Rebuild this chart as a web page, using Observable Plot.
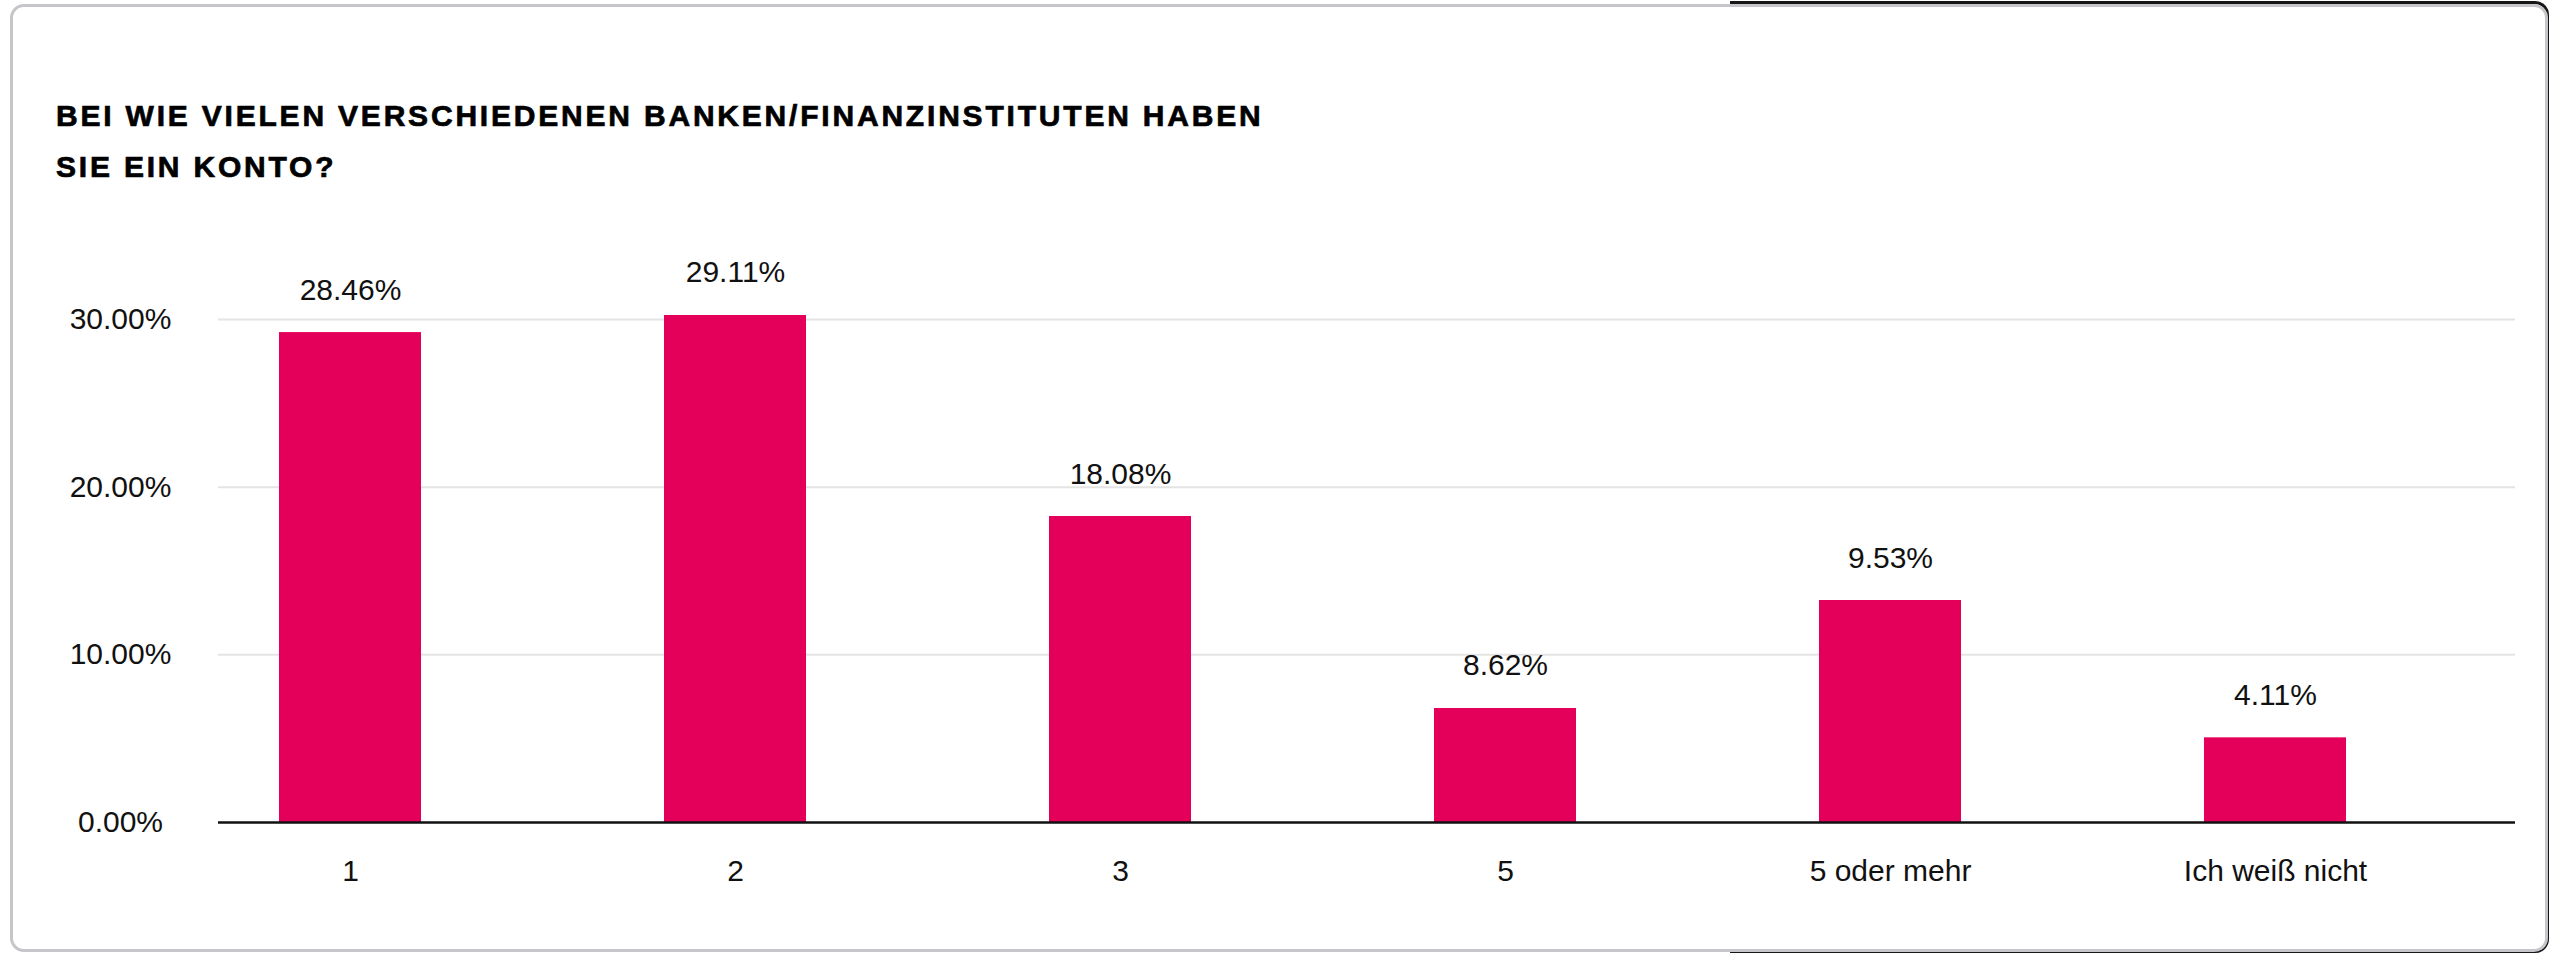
<!DOCTYPE html>
<html>
<head>
<meta charset="utf-8">
<script src="https://cdn.jsdelivr.net/npm/d3@7"></script>
<script src="https://cdn.jsdelivr.net/npm/@observablehq/plot@0.6"></script>
<style>
  html, body { margin: 0; padding: 0; background: #fff; overflow: hidden; }
  #wrap { position: relative; width: 2552px; height: 956px; background: #fff; }
  #card { position: absolute; left: 10px; top: 4px; width: 2532px; height: 942px;
          border: 3px solid #c6c6ca; border-radius: 14px; box-sizing: content-box; }
  #dark { position: absolute; left: 1730px; top: 1px; right: 3px; bottom: 3px;
          border: 3px solid #161616; border-left: none; border-radius: 0 14px 14px 0; }
  #title { position: absolute; left: 56px; top: 90px; font-family: "Liberation Sans", Arial, sans-serif;
           font-weight: 700; font-size: 30px; letter-spacing: 2.8px; line-height: 51px; color: #000;
           -webkit-text-stroke: 0.7px #000; }
  #chart { position: absolute; left: 0; top: 0; }
  #chart svg { overflow: visible; }
</style>
</head>
<body>
<div id="wrap">
  <div id="dark"></div>
  <div id="card"></div>
  <div id="title">BEI WIE VIELEN VERSCHIEDENEN BANKEN/FINANZINSTITUTEN HABEN<br>SIE EIN KONTO?</div>
  <div id="chart"></div>
</div>
<script>
// Data
const categories = ["1", "2", "3", "5", "5 oder mehr", "Ich weiß nicht"];
const barHeights = [29.22, 30.24, 18.25, 6.80, 13.24, 5.05];   // bar heights as drawn (percent)
const valueLabels = ["28.46%", "29.11%", "18.08%", "8.62%", "9.53%", "4.11%"];
const yTicks = [0, 10, 20, 30];
const gridTicks = [10, 20, 30];

const rows = categories.map((c, i) => ({cat: c, v: barHeights[i], label: valueLabels[i]}));

const font = "'Liberation Sans', Arial, sans-serif";

const plot = Plot.plot({
  width: 2552,
  height: 956,
  marginLeft: 218,
  marginRight: 37,
  marginTop: 319,
  marginBottom: 134,
  style: {fontFamily: font, fontSize: "30px", color: "#111", background: "transparent"},
  x: {type: "band", domain: categories, range: [155.7, 2469.3], paddingInner: 0.632, paddingOuter: 0.316, label: null},
  y: {domain: [0, 30], label: null},
  marks: [
    Plot.gridY(gridTicks, {stroke: "#e4e4e4", strokeOpacity: 1, strokeWidth: 2}),
    Plot.barY(rows, {x: "cat", y: "v", fill: "#e4005a"}),
    Plot.ruleY([0], {stroke: "#111", strokeWidth: 2.5}),
    Plot.text(rows, {x: "cat", y: "v", text: "label", lineAnchor: "bottom", dy: -33, fontSize: 30, fill: "#111"}),
    Plot.axisY({ticks: yTicks, tickSize: 0, tickPadding: 98, textAnchor: "middle", tickFormat: d => d.toFixed(2) + "%", fontSize: 30, label: null, fill: "#111"}),
    Plot.axisX({tickSize: 0, tickPadding: 37, fontSize: 30, label: null, fill: "#111"})
  ]
});
document.getElementById("chart").appendChild(plot);
</script>
</body>
</html>
